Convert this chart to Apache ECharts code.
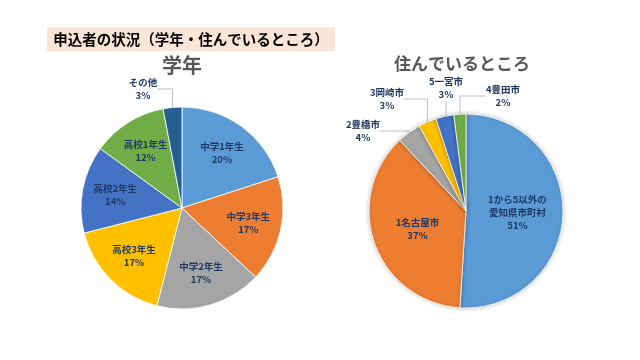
<!DOCTYPE html>
<html><head><meta charset="utf-8">
<script src="https://cdn.jsdelivr.net/npm/echarts@6/dist/echarts.min.js"></script>
<style>html,body{margin:0;padding:0;background:#fff}#c{width:640px;height:360px}</style>
</head><body><div id="c"></div>
<script>
const mainTitle = '申込者の状況（学年・住んでいるところ）';
const gradeTitle = '学年';
const gradeCategories = ['中学1年生','中学3年生','中学2年生','高校3年生','高校2年生','高校1年生','その他'];
const gradeValues = [20,17,17,17,14,12,3];
const gradeColors = ['#5b9bd5','#ed7d31','#a5a5a5','#ffc000','#4472c4','#70ad47','#255e91'];
const placeTitle = '住んでいるところ';
const placeCategories = ['1から5以外の\n愛知県市町村','1名古屋市','2豊橋市','3岡崎市','5一宮市','4豊田市'];
const placeValues = [51,37,4,3,3,2];
const placeColors = ['#5b9bd5','#ed7d31','#a5a5a5','#ffc000','#4472c4','#70ad47'];

const FONT = '"Noto Sans CJK JP", "Noto Sans", sans-serif';
const LBL = '#1f3864';
const C1 = [182, 208], R1 = 101;
const C2 = [466, 211], R2 = 97;

const chart = echarts.init(document.getElementById('c'), null, {renderer:'canvas'});

const labelBase = {
  color: LBL, fontFamily: FONT, fontWeight: 'bold', fontSize: 9.5, lineHeight: 13,
  formatter: p => p.name + '\n' + p.value + '%'
};
const lineStyle = {color:'#bfbfbf', width:1};

const gradeData = gradeCategories.map((n,i)=>{
  const d = {name:n, value:gradeValues[i], itemStyle:{color:gradeColors[i]}};
  if (i === 6) { d.label = {position:'outside'}; d.labelLine = {show:true, lineStyle}; }
  return d;
});
const placeData = placeCategories.map((n,i)=>{
  const d = {name:n, value:placeValues[i], itemStyle:{color:placeColors[i]}};
  if (i >= 2) { d.label = {position:'outside'}; d.labelLine = {show:true, lineStyle}; }
  return d;
});

const placeOutside = {2:[363,131], 3:[387,99], 4:[446,88], 5:[503,96]};

chart.setOption({
  backgroundColor:'#fff',
  animation:false,
  graphic:[
    {type:'rect', shape:{x:47,y:27,width:288,height:24}, style:{fill:'#fbe5d6'}},
    {type:'text', x:191, y:39, style:{text:mainTitle, fill:'#000', font:'bold 14.5px '+FONT, align:'center', verticalAlign:'middle'}},
    {type:'text', x:182, y:65, style:{text:gradeTitle, fill:'#595959', font:'bold 20px '+FONT, align:'center', verticalAlign:'middle'}},
    {type:'text', x:462, y:64, style:{text:placeTitle, fill:'#595959', font:'bold 17px '+FONT, align:'center', verticalAlign:'middle'}}
  ],
  series:[
    {
      type:'pie', center:C1, radius:R1, startAngle:90, clockwise:true,
      itemStyle:{borderColor:'#fff', borderWidth:0.8},
      label:Object.assign({show:true, position:'inside'}, labelBase),
      labelLine:{show:false},
      labelLayout: function(p){
        if (p.dataIndex === 6) return {x:143, y:89, align:'center', verticalAlign:'middle'};
        const r = p.labelRect; const lx = r.x + r.width/2, ly = r.y + r.height/2;
        const k = 0.27;
        return {dx:(lx-C1[0])*k, dy:(ly-C1[1])*k};
      },
      data:gradeData
    },
    {
      type:'pie', center:C2, radius:R2, startAngle:90, clockwise:true,
      itemStyle:{borderColor:'#fff', borderWidth:0.8, shadowBlur:4, shadowColor:'rgba(0,0,0,0.25)'},
      label:Object.assign({show:true, position:'inside'}, labelBase),
      labelLine:{show:false},
      labelLayout: function(p){
        const pos = placeOutside[p.dataIndex];
        if (pos) return {x:pos[0], y:pos[1], align:'center', verticalAlign:'middle'};
        return {};
      },
      data:placeData
    }
  ]
});
</script></body></html>
